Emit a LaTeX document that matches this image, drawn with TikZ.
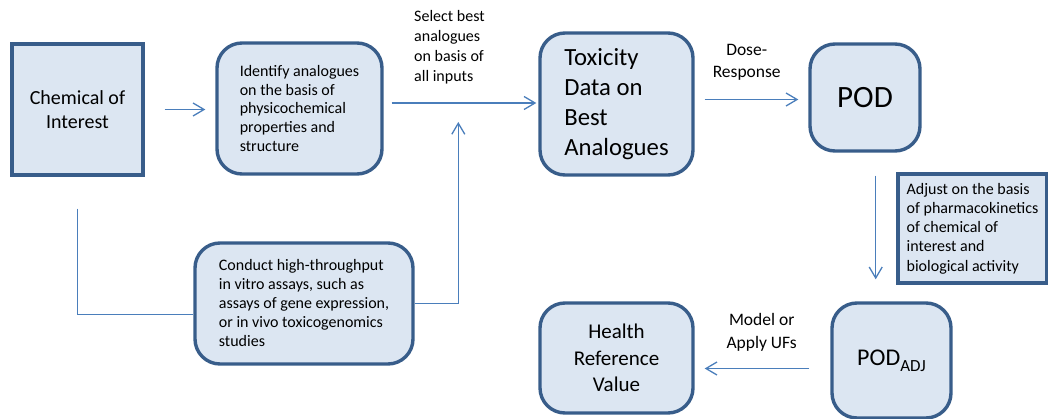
\documentclass[tikz,border=0pt]{standalone}
\usepackage{fontspec}
\setmainfont{Carlito}
\usetikzlibrary{arrows.meta}
\definecolor{boxfill}{HTML}{DCE6F2}
\definecolor{boxline}{HTML}{385D8A}
\definecolor{linkblue}{HTML}{4A7EBB}
\begin{document}
\begin{tikzpicture}[x=1pt,y=-1pt,
  box/.style={draw=boxline, fill=boxfill, line width=3.4pt, inner sep=0pt, align=left},
  rbox/.style={box, rounded corners=25pt},
  conn/.style={draw=linkblue, line width=1.3pt},
  arr/.style={conn, -{Straight Barb[length=11pt,width=13pt]}},
  small/.style={font=\fontsize{16}{18.7}\selectfont},
  lbl/.style={inner sep=0pt, align=center, font=\fontsize{17.5}{21.5}\selectfont}]
\useasboundingbox (0,0) rectangle (1048,419);

% process boxes
\node[box, minimum width=131pt, minimum height=131pt, align=center,
      font=\fontsize{20}{23.3}\selectfont] (chem) at (77.5,109.5) {Chemical of\\Interest};
\node[rbox, small, minimum width=165pt, minimum height=131pt] (ident) at (299.5,108.5)
  {Identify analogues\\on the basis of\\physicochemical\\properties and\\structure};
\node[rbox, minimum width=153pt, minimum height=142pt,
      font=\fontsize{24.7}{30}\selectfont] (tox) at (616.5,104)
  {Toxicity\\Data on\\Best\\Analogues};
\node[rbox, minimum width=110pt, minimum height=107pt,
      font=\fontsize{31}{36}\selectfont] (pod) at (865,97.5) {POD};
\node[box, minimum width=149pt, minimum height=109pt,
      font=\fontsize{16}{19.3}\selectfont] (adjust) at (972.5,228.5)
  {Adjust on the basis\\of pharmacokinetics\\of chemical of\\interest and\\biological activity};
\node[rbox, minimum width=218pt, minimum height=121pt,
      font=\fontsize{16}{19}\selectfont] (conduct) at (304,303.5)
  {Conduct high-throughput\\in vitro assays, such as\\assays of gene expression,\\or in vivo toxicogenomics\\studies};
\node[rbox, align=center, minimum width=153pt, minimum height=110pt,
      font=\fontsize{21}{26.3}\selectfont] (health) at (616.5,358)
  {Health\\Reference\\Value};
\node[rbox, minimum width=119pt, minimum height=115pt,
      font=\fontsize{24}{28}\selectfont] (podadj) at (891.5,360.5)
  {POD\raisebox{-6pt}{\fontsize{17}{17}\selectfont ADJ}};

% connector labels
\node[lbl, anchor=west, align=left, font=\fontsize{16}{20}\selectfont] (sel) at (414,47.3)
  {Select best\\analogues\\on basis of\\all inputs};
\node[lbl] (dose) at (746.7,62.2) {Dose-\\Response};
\node[lbl, font=\fontsize{17.5}{22.7}\selectfont] (model) at (761.7,332) {Model or\\Apply UFs};

% connectors
\draw[arr, shorten <=20pt, shorten >=10pt] (chem.east) -- (chem.east -| ident.west);
\draw[arr, shorten <=8pt, shorten >=2pt] ([yshift=1pt]ident.east |- tox.west) -- ([yshift=1pt]tox.west);
\coordinate (join) at ([yshift=1pt]tox.west -| 458.3,0);
\draw[arr, shorten <=10pt, shorten >=10pt] ([yshift=-2pt]pod.west -| tox.east) -- ([yshift=-2pt]pod.west);
\draw[arr, shorten <=23pt, shorten >=22pt] ([xshift=10.7pt]pod.south) -- ([xshift=10.7pt]pod.south |- podadj.north);
\draw[arr, shorten <=21pt, shorten >=10pt] ([yshift=-8pt]podadj.west) -- ([yshift=-8pt]podadj.west -| health.east);
\draw[conn, shorten <=32pt] (chem.south) |- ([yshift=-11pt]conduct.west);
\draw[arr, shorten >=19pt] (conduct.east) -| (join);
\end{tikzpicture}
\end{document}
